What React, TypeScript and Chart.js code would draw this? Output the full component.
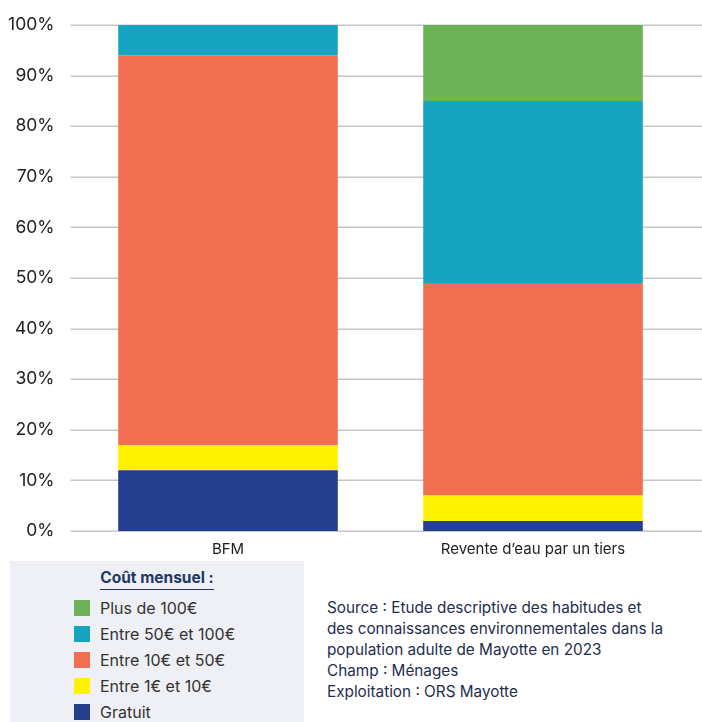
import React, { useEffect, useRef } from "react";
import { Chart, registerables } from "chart.js";

Chart.register(...registerables);

const categories = ["BFM", "Revente d\u2019eau par un tiers"];
const seriesNames = ["Gratuit", "Entre 1\u20ac et 10\u20ac", "Entre 10\u20ac et 50\u20ac", "Entre 50\u20ac et 100\u20ac", "Plus de 100\u20ac"];
const gratuit = [12, 2];
const entre1et10 = [5, 5];
const entre10et50 = [77, 42];
const entre50et100 = [6, 36];
const plusDe100 = [0, 15];
const seriesColors = ["#253f8e", "#fff200", "#f26e50", "#16a5c0", "#6db257"];
const yTicks = [0, 10, 20, 30, 40, 50, 60, 70, 80, 90, 100];
const legendTitle = "Co\u00fbt mensuel :";
const sourceLines = [
  "Source : Etude descriptive des habitudes et",
  "des connaissances environnementales dans la",
  "population adulte de Mayotte en 2023",
  "Champ : M\u00e9nages",
  "Exploitation : ORS Mayotte",
];

const FONT = "Inter, 'Noto Sans', sans-serif";

const gridPlugin = {
  id: "extGrid",
  beforeDatasetsDraw(chart: any) {
    const { ctx, chartArea, scales } = chart;
    const y = scales.y;
    ctx.save();
    ctx.strokeStyle = "#c6c6c6";
    ctx.lineWidth = 1.5;
    yTicks.forEach((v) => {
      const py = Math.round(y.getPixelForValue(v)) + 0.25;
      ctx.beginPath();
      ctx.moveTo(chartArea.left - 5, py);
      ctx.lineTo(chart.width, py);
      ctx.stroke();
    });
    ctx.restore();
  },
};

export default function App() {
  const ref = useRef<HTMLCanvasElement>(null);
  useEffect(() => {
    const series = [gratuit, entre1et10, entre10et50, entre50et100, plusDe100];
    const chart = new Chart(ref.current as HTMLCanvasElement, {
      type: "bar",
      data: {
        labels: categories,
        datasets: series.map((d, i) => ({
          label: seriesNames[i],
          data: d,
          backgroundColor: seriesColors[i],
          borderWidth: 0,
          barPercentage: 0.72,
          categoryPercentage: 1,
        })),
      },
      options: {
        animation: false,
        responsive: false,
        maintainAspectRatio: false,
        layout: { padding: { top: 25, right: 16.5, bottom: 3, left: 0 } },
        plugins: { legend: { display: false }, tooltip: { enabled: false } },
        scales: {
          x: {
            stacked: true,
            grid: { display: false, drawTicks: false },
            border: { display: false },
            ticks: { color: "#222", font: { family: FONT, size: 15 }, padding: 9 },
          },
          y: {
            stacked: true,
            min: 0,
            max: 100,
            afterFit: (s: any) => {
              s.width = 75.5;
              s.paddingTop = 0;
              s.paddingBottom = 0;
            },
            grid: { display: false, drawTicks: false },
            border: { display: false },
            ticks: {
              stepSize: 10,
              padding: 21,
              color: "#222",
              font: { family: FONT, size: 17.5 },
              callback: (v: any) => v + "%",
            },
          },
        },
      },
      plugins: [gridPlugin],
    });
    return () => chart.destroy();
  }, []);

  const legendOrder = [4, 3, 2, 1, 0];
  return (
    <div style={{ position: "absolute", left: 0, top: 0, width: 702, height: 722, background: "#fff", fontFamily: FONT }}>
      <canvas ref={ref} width={702} height={570} style={{ position: "absolute", left: 0, top: 0 }} />
      <div style={{ position: "absolute", left: 10, top: 561, width: 294, height: 161, background: "#eef0f5" }}>
        <div style={{ position: "absolute", left: 0, width: 294, top: 7, textAlign: "center", fontSize: 15.5, fontWeight: 700, color: "#1f3864" }}>
          <span style={{ borderBottom: "1.5px solid #1f3864", paddingBottom: 2 }}>{legendTitle}</span>
        </div>
        {legendOrder.map((idx, r) => (
          <div key={idx} style={{ position: "absolute", left: 64, top: 39 + r * 26, height: 16, display: "flex", alignItems: "center" }}>
            <div style={{ width: 16, height: 16, background: seriesColors[idx] }} />
            <span style={{ marginLeft: 10, fontSize: 16, color: "#333" }}>{seriesNames[idx]}</span>
          </div>
        ))}
      </div>
      <div style={{ position: "absolute", left: 327, top: 597, fontSize: 15.3, lineHeight: "21px", color: "#1f2d4d" }}>
        {sourceLines.map((l, i) => (
          <div key={i}>{l}</div>
        ))}
      </div>
    </div>
  );
}
